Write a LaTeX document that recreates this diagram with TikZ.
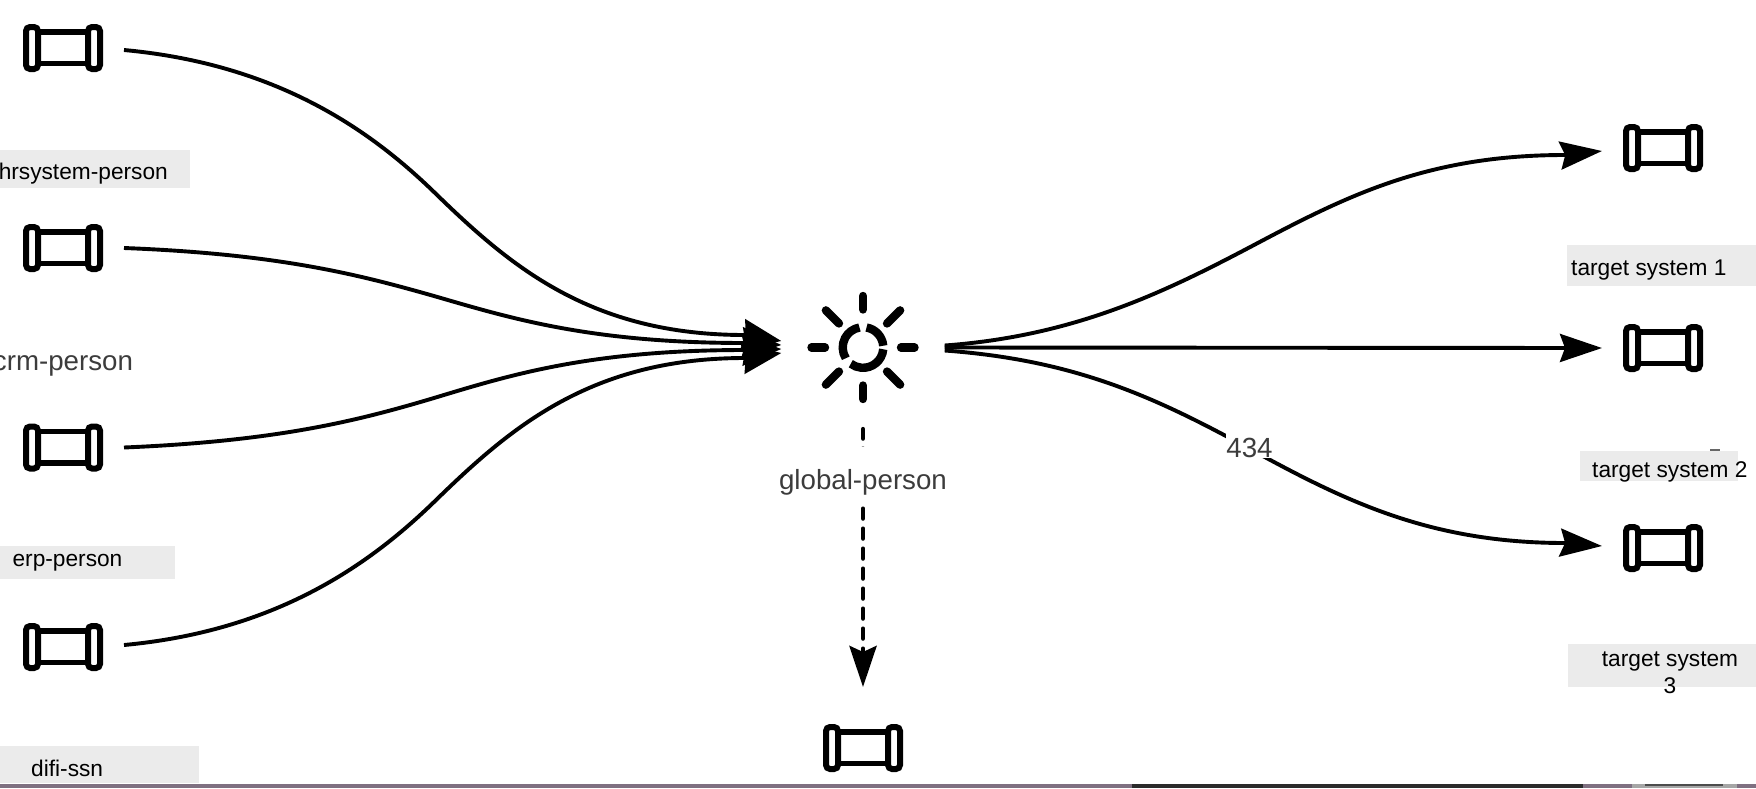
\documentclass[tikz,border=0pt]{standalone}
\usepackage{fontspec}
\setmainfont{Liberation Sans}
\usetikzlibrary{arrows.meta}
\definecolor{lblbg}{HTML}{EBEBEB}
\definecolor{darktxt}{HTML}{3C3C3C}
\definecolor{strippurple}{HTML}{7F7081}
\definecolor{stripdark}{HTML}{2B2B2B}
\tikzset{
  pipe/.pic={
    \draw[line width=6pt,rounded corners=4pt] (-37,-21) rectangle (-25,21);
    \draw[line width=6pt,rounded corners=4pt] (25,-21) rectangle (37,21);
    \draw[line width=5.5pt] (-25,-16) -- (25,-16) (-25,15.5) -- (25,15.5);
  },
  gear/.pic={
    \begin{scope}[yscale=-1,line width=8.4pt]
      \foreach \a in {0,90,180,270} \draw[line cap=round] (\a:38) -- (\a:51.5);
      \foreach \a in {45,135,225,315} \draw[line cap=round] (\a:34) -- (\a:52.5);
      \draw (80:20.3) arc[start angle=80,end angle=5,radius=20.3];
      \draw (-5:20.3) arc[start angle=-5,end angle=-127,radius=20.3];
      \draw (-148:20.3) arc[start angle=-148,end angle=-260,radius=20.3];
    \end{scope}
  },
  pipenode/.style={inner sep=0pt,minimum width=80pt,minimum height=48pt,outer xsep=21pt,outer ysep=37pt},
  hubnode/.style={inner sep=0pt,minimum size=163pt},
  flow/.style={line width=3.9pt,-{Stealth[length=39pt,width=31pt,inset=3pt]}},
  flowout/.style={line width=3.9pt,-{Stealth[length=42pt,width=28pt,inset=5pt]}},
  dashflow/.style={line width=4.8pt,line cap=round,dash pattern=on 9.6pt off 10.4pt,dash phase=0.4pt,-{Stealth[length=41pt,width=27pt,inset=6pt]}},
  boxtext/.style={inner sep=0pt,font=\fontsize{22.7}{27}\selectfont,text=black},
  greytext/.style={inner sep=0pt,font=\fontsize{27.7}{33}\selectfont,text=darktxt},
}
\begin{document}
\begin{tikzpicture}[x=1pt,y=-1pt]
\useasboundingbox (0,0) rectangle (1756,788);
% bottom strip
\fill[strippurple] (0,784) rectangle (1756,788);
\fill[stripdark] (1132,784) rectangle (1583,788);
\fill[black!35] (1632,784) rectangle (1737,788);
\fill[black!70] (1645,784) rectangle (1723,785.5);
% label backgrounds
\fill[lblbg] (0,150) rectangle (190,188);
\fill[lblbg] (0,546) rectangle (175,579);
\fill[lblbg] (0,746) rectangle (199,783);
\fill[lblbg] (1567,245) rectangle (1756,286);
\fill[lblbg] (1580,451) rectangle (1738,481);
\fill[lblbg] (1568,644) rectangle (1756,687);
\fill[black!60] (1710,449) rectangle (1720,451);
% icon holders
\node[pipenode] (hr) at (63,48) {};
\node[pipenode] (crm) at (63,248) {};
\node[pipenode] (erp) at (63,447.5) {};
\node[pipenode] (difi) at (63,647) {};
\node[pipenode] (t1) at (1663,148) {};
\node[pipenode] (t2) at (1663,348) {};
\node[pipenode] (t3) at (1663,548) {};
\node[pipenode] (sink) at (863,748) {};
\node[hubnode] (hub) at (863,347.5) {};
\foreach \n in {hr,crm,erp,difi,t1,t2,t3,sink} \pic at (\n) {pipe};
\pic at (hub) {gear};
% incoming (yshift is in canvas sense: positive goes up in the image)
\draw[flow] ([yshift=-2pt]hr.east) .. controls (275,64) and (368,128) .. (434,192)
  .. controls (510,266) and (590,335) .. (745,335) -- ([yshift=6.5pt]hub.west);
\draw[flow] (crm.east) .. controls (280,254) and (360,275) .. (434,296)
  .. controls (510,318) and (590,343) .. (745,343) -- ([yshift=2.5pt]hub.west);
\draw[flow] (erp.east) .. controls (280,441) and (360,420) .. (434,398)
  .. controls (510,375) and (590,350) .. (745,350) -- ([yshift=-1.5pt]hub.west);
\draw[flow] ([yshift=2pt]difi.east) .. controls (275,631) and (368,566) .. (434,502)
  .. controls (510,428) and (590,358) .. (745,358) -- ([yshift=-5.5pt]hub.west);
% outgoing
\draw[flowout] ([yshift=2pt]hub.east) .. controls (1075,336) and (1165,292) .. (1254,245)
  .. controls (1350,194) and (1430,155) .. (1565,155) -- ([yshift=-3pt]t1.west);
\draw[flowout] (hub.east) -- (t2.west);
\draw[flowout] ([yshift=-3pt]hub.east) .. controls (1075,360) and (1155,397) .. (1250,449)
  .. controls (1345,501) and (1430,543) .. (1565,543) -- ([yshift=2pt]t3.west);
\draw[dashflow] (hub.south) -- (sink.north);
% labels on edges
\node[greytext,anchor=base,fill=white,text height=42pt,text depth=16pt] (globallbl) at (863,489) {global-person};
\node[greytext,anchor=base,fill=white,text height=28pt,text depth=1pt] (edgelbl) at (1249.5,457) {434};
% texts
\node[greytext,anchor=base] (crmlbl) at (63,370) {crm-person};
\node[boxtext,anchor=base east] (hrlbl) at (168,179) {hrsystem-person};
\node[boxtext,anchor=base] (erplbl) at (67.5,566) {erp-person};
\node[boxtext,anchor=base west] (difilbl) at (31,776) {difi-ssn};
\node[boxtext,anchor=base west] (t1lbl) at (1571,275) {target system 1};
\node[boxtext,anchor=base west] (t2lbl) at (1592,477) {target system 2};
\node[boxtext,anchor=base,align=center] (t3lbl) at (1670,693) {target system\\3};
\end{tikzpicture}
\end{document}
